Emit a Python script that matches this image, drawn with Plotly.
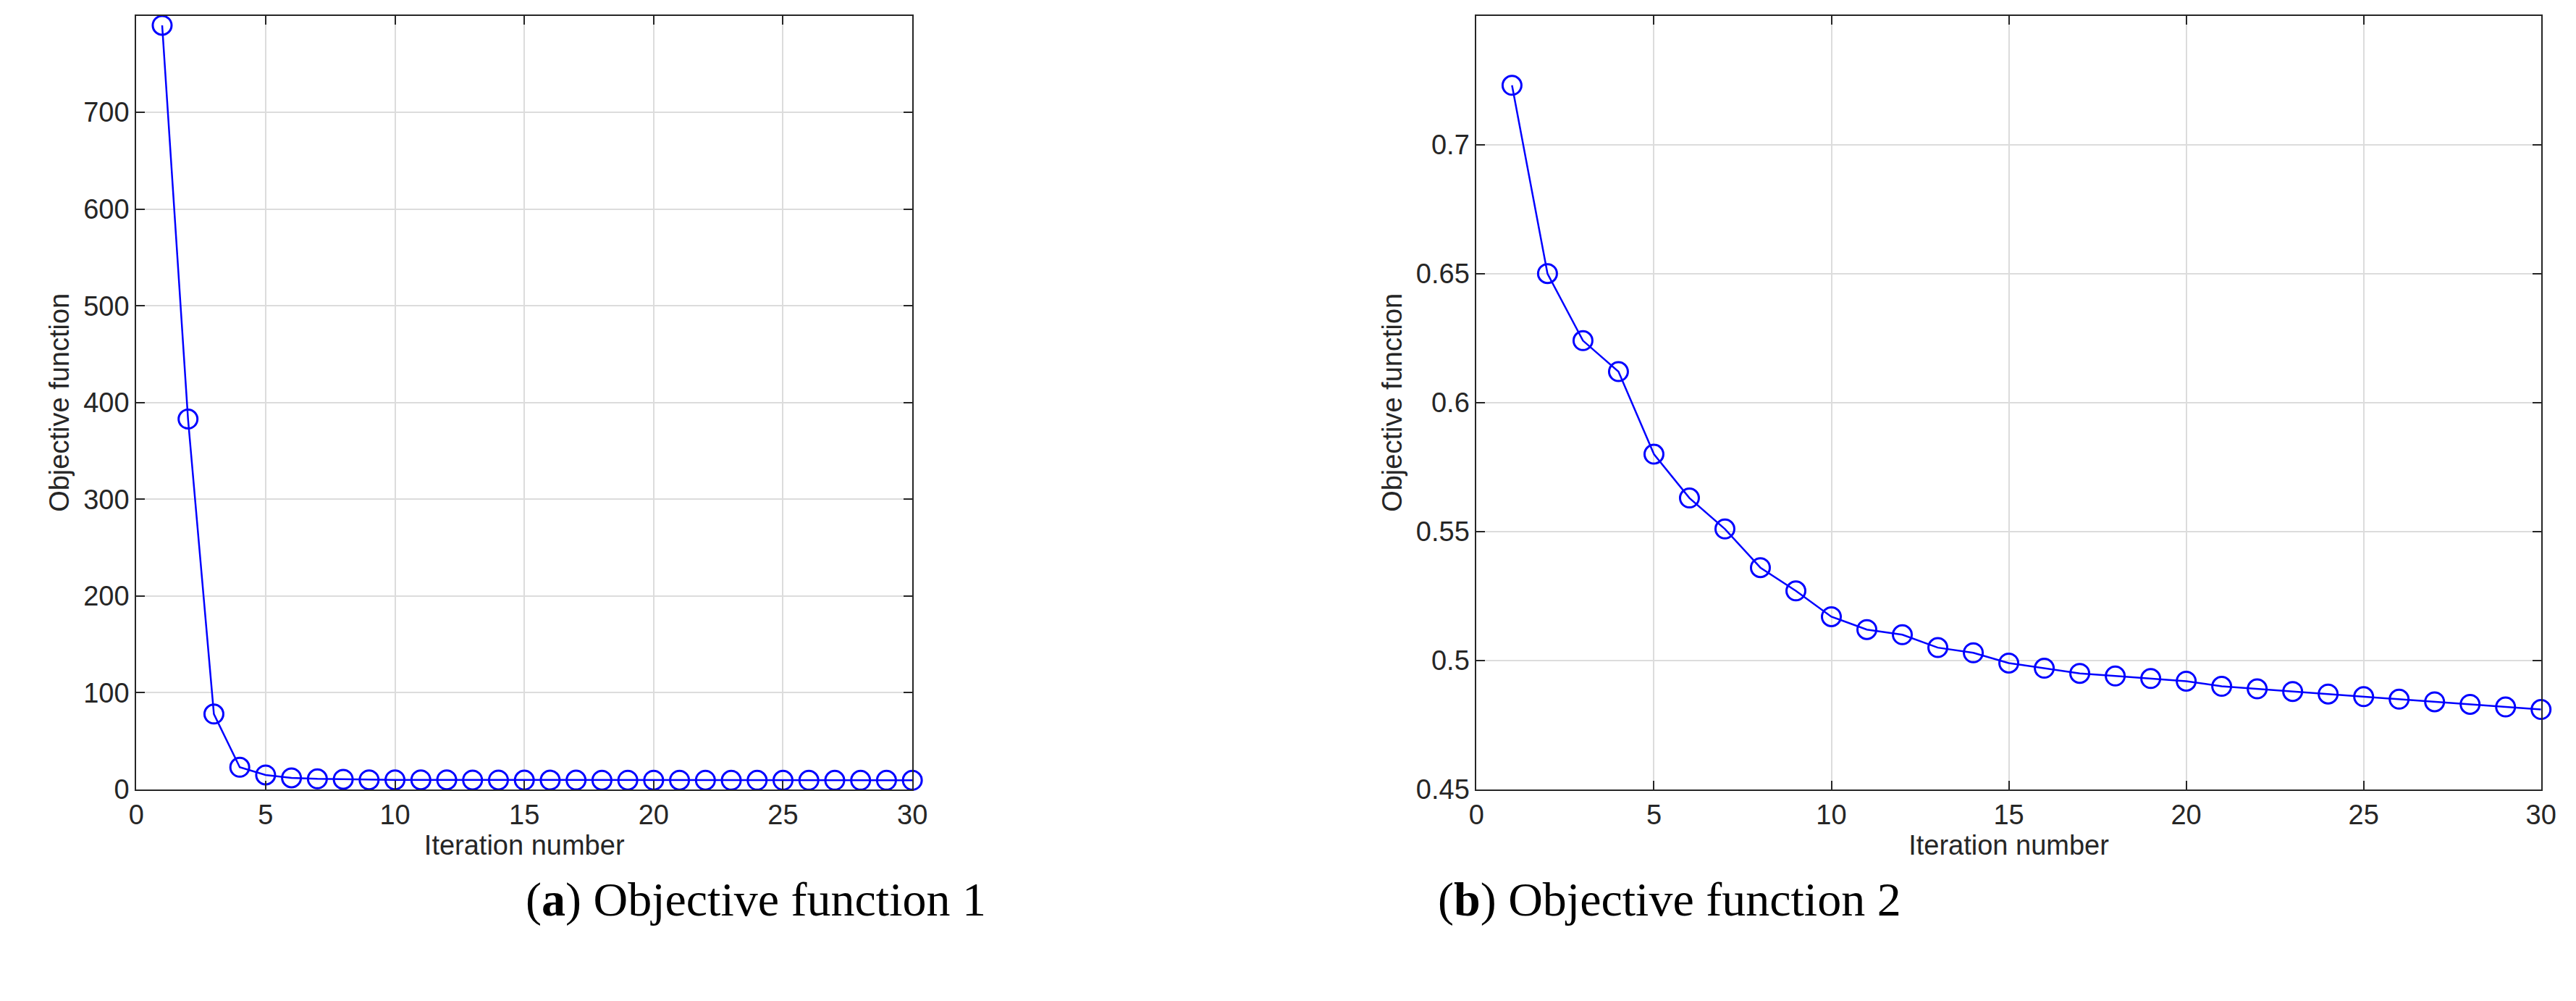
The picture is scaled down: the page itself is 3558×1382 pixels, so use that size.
import plotly.graph_objects as go

iterations = list(range(1, 31))
obj1 = [790, 383, 78, 23, 15, 12, 11, 10.5, 10, 10, 10, 10, 9.8, 9.8, 9.7, 9.7, 9.7, 9.6, 9.6, 9.6,
        9.6, 9.6, 9.5, 9.5, 9.5, 9.5, 9.5, 9.5, 9.5, 9.5]
obj2 = [0.723, 0.650, 0.624, 0.612, 0.580, 0.563, 0.551, 0.536, 0.527, 0.517, 0.512, 0.510, 0.505,
        0.503, 0.499, 0.497, 0.495, 0.494, 0.493, 0.492, 0.490, 0.489, 0.488, 0.487, 0.486, 0.485,
        0.484, 0.483, 0.482, 0.481]
captions = ["<b>a</b>", "<b>b</b>"]
caption_text = ["Objective function 1", "Objective function 2"]

W, H = 3558, 1382
fig = go.Figure()
tick_font = dict(family="Arial, Liberation Sans, sans-serif", size=38, color="#262626")

for i, (y, cx) in enumerate([(obj1, 0.2), (obj2, 0.74)]):
    xa = "x" if i == 0 else "x2"
    ya = "y" if i == 0 else "y2"
    fig.add_trace(go.Scatter(x=iterations, y=y, xaxis=xa, yaxis=ya, mode="lines+markers",
                             line=dict(color="#0000ff", width=2.5),
                             marker=dict(symbol="circle-open", size=26, color="#0000ff",
                                         line=dict(width=3)),
                             showlegend=False, cliponaxis=False))
    fig.add_annotation(x=cx, y=0.065, xref="paper", yref="paper",
                       text="(" + captions[i] + ") " + caption_text[i], showarrow=False,
                       font=dict(family="Liberation Serif, DejaVu Serif, serif", size=66, color="black"))

axis_common = dict(showline=True, linecolor="#262626", linewidth=2, mirror="ticks",
                   ticks="inside", ticklen=12, tickcolor="#262626", tickwidth=2,
                   showgrid=True, gridcolor="#dcdcdc", gridwidth=2, zeroline=False,
                   tickfont=tick_font)
title_font = dict(family="Arial, Liberation Sans, sans-serif", size=38, color="#262626")

fig.update_layout(
    width=W, height=H, margin=dict(l=0, r=0, t=0, b=0),
    plot_bgcolor="white", paper_bgcolor="white",
    xaxis=dict(domain=[0.048, 0.352], range=[0, 30], dtick=5, anchor="y",
               title=dict(text="Iteration number", font=title_font, standoff=4), **axis_common),
    yaxis=dict(domain=[0.205, 0.99], range=[0, 800], dtick=100, anchor="x",
               title=dict(text="Objective function", font=title_font, standoff=8), **axis_common),
    xaxis2=dict(domain=[0.573, 0.99], range=[0, 30], dtick=5, anchor="y2",
                title=dict(text="Iteration number", font=title_font, standoff=4), **axis_common),
    yaxis2=dict(domain=[0.205, 0.99], range=[0.45, 0.75], dtick=0.05, anchor="x2",
                title=dict(text="Objective function", font=title_font, standoff=8), **axis_common),
)

fig.write_html("out.html")
